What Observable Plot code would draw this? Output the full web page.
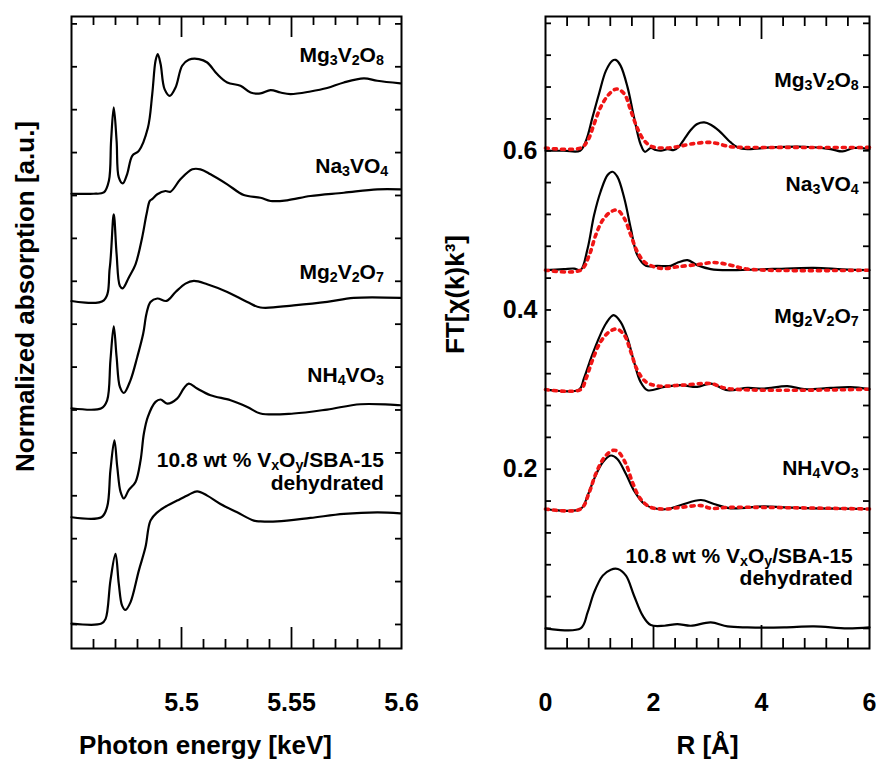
<!DOCTYPE html>
<html><head><meta charset="utf-8">
<script src="https://cdn.jsdelivr.net/npm/d3@7"></script>
<script src="https://cdn.jsdelivr.net/npm/@observablehq/plot@0.6"></script>
<style>
body{margin:0;background:#fff}
#wrap{position:relative;width:889px;height:765px;overflow:hidden}
#left{position:absolute;left:0;top:0;width:420px}
#right{position:absolute;left:420px;top:0;width:469px}
</style>
</head><body><div id="wrap"><div id="left"></div><div id="right"></div></div>
<script>
// ---------- DATA ----------
const samples = ["Mg3V2O8", "Na3VO4", "Mg2V2O7", "NH4VO3", "10.8 wt % VxOy/SBA-15 dehydrated"];
const xasOffset = [5.02, 3.77, 2.52, 1.25, 0.01];
const ftOffset = [0.6, 0.45, 0.3, 0.15, 0];

// XANES: [photon energy keV, normalized absorption]
const xasMg3V2O8 = [[5.45,0],[5.4601,0],[5.4647,0.015],[5.4670,0.152],[5.4680,0.618],[5.4692,1.006],[5.4705,0.618],[5.4715,0.19],[5.4733,0.12],[5.4753,0.23],[5.4776,0.443],[5.4806,0.50],[5.4847,0.766],[5.4867,1.162],[5.4882,1.55],[5.4892,1.628],[5.4905,1.512],[5.4923,1.22],[5.4947,1.142],[5.4973,1.239],[5.5003,1.492],[5.5033,1.562],[5.5079,1.57],[5.5117,1.53],[5.5162,1.395],[5.5208,1.297],[5.5268,1.259],[5.5314,1.18],[5.5359,1.169],[5.5405,1.209],[5.5450,1.18],[5.5495,1.162],[5.5586,1.192],[5.5662,1.232],[5.5738,1.297],[5.5829,1.344],[5.5890,1.317],[5.5995,1.286]];
const xasNa3VO4 = [[5.45,0],[5.4647,0.008],[5.4674,0.388],[5.4692,1.01],[5.4705,0.548],[5.4720,0.175],[5.4733,0.148],[5.4760,0.272],[5.4791,0.428],[5.4821,0.738],[5.4841,1.01],[5.4856,1.166],[5.4868,1.19],[5.4890,1.244],[5.4927,1.282],[5.4950,1.274],[5.4995,1.418],[5.5049,1.535],[5.5086,1.535],[5.5132,1.477],[5.5208,1.36],[5.5283,1.235],[5.5359,1.204],[5.5405,1.166],[5.5480,1.174],[5.5586,1.224],[5.5738,1.262],[5.5890,1.302],[5.5995,1.302]];
const xasMg2V2O7 = [[5.45,0],[5.4636,0],[5.4662,0.093],[5.4677,0.559],[5.4692,0.956],[5.4705,0.598],[5.4720,0.248],[5.4738,0.178],[5.4768,0.326],[5.4799,0.598],[5.4826,0.871],[5.4841,1.104],[5.4859,1.239],[5.4890,1.279],[5.4932,1.251],[5.4973,1.355],[5.5018,1.453],[5.5056,1.484],[5.5117,1.445],[5.5208,1.355],[5.5299,1.239],[5.5359,1.174],[5.5510,1.2],[5.5662,1.239],[5.5783,1.286],[5.5995,1.286]];
const xasNH4VO3 = [[5.45,0],[5.4636,0],[5.4662,0.12],[5.4677,0.548],[5.4695,0.897],[5.4708,0.586],[5.4723,0.295],[5.4738,0.218],[5.4760,0.315],[5.4791,0.411],[5.4814,0.664],[5.4829,0.976],[5.4847,1.17],[5.4882,1.344],[5.4905,1.372],[5.4935,1.325],[5.4980,1.383],[5.5010,1.5],[5.5033,1.558],[5.5071,1.5],[5.5132,1.422],[5.5223,1.364],[5.5299,1.286],[5.5359,1.209],[5.5510,1.209],[5.5662,1.255],[5.5814,1.317],[5.5995,1.305]];
const xasVOxSBA = [[5.45,0],[5.4636,0],[5.4655,0.055],[5.4677,0.501],[5.4700,0.812],[5.4715,0.463],[5.4730,0.21],[5.4745,0.16],[5.4768,0.248],[5.4806,0.618],[5.4836,0.889],[5.4859,1.2],[5.4890,1.297],[5.4935,1.375],[5.4980,1.434],[5.5033,1.503],[5.5071,1.542],[5.5117,1.492],[5.5177,1.395],[5.5253,1.297],[5.5329,1.2],[5.5359,1.192],[5.5435,1.192],[5.5586,1.232],[5.5738,1.279],[5.5890,1.297],[5.5995,1.286]];

// FT: [R in Å, FT[chi(k)k^3]] experiment (black) and fit (red dotted)
const ftMg3V2O8 = [[0,0],[0.34,0],[0.64,0],[0.75,0.0126],[0.87,0.0419],[0.99,0.0713],[1.12,0.1006],[1.24,0.1132],[1.30,0.1141],[1.39,0.1069],[1.52,0.0796],[1.64,0.0419],[1.76,0.0084],[1.84,-0.0013],[1.95,0.0034],[2.04,0.0009],[2.14,0],[2.26,0.0021],[2.38,0.0009],[2.47,0.005],[2.57,0.0147],[2.69,0.026],[2.81,0.0336],[2.94,0.0356],[3.06,0.0327],[3.21,0.0252],[3.43,0.0104],[3.56,0.0042],[3.74,0.0021],[4.17,0.0042],[4.79,0.005],[5.28,0.0021],[5.50,-0.0009],[5.71,0.0034],[6,0.0021]];
const ftMg3V2O8Fit = [[0,0.0034],[0.65,0.0034],[0.78,0.0126],[0.90,0.0336],[1.02,0.0545],[1.18,0.0713],[1.32,0.0776],[1.46,0.0713],[1.58,0.0503],[1.70,0.0285],[1.83,0.0126],[1.98,0.005],[2.20,0.0034],[2.44,0.005],[2.69,0.0084],[3.06,0.0104],[3.43,0.005],[3.68,0.0042],[4.5,0.0042],[5.2,0.004],[6,0.0042]];
const ftNa3VO4 = [[0,0],[0.34,0.0013],[0.53,0.002],[0.65,0],[0.78,0.0272],[0.90,0.0692],[1.02,0.0985],[1.15,0.1195],[1.24,0.1236],[1.33,0.1174],[1.46,0.0901],[1.58,0.0523],[1.70,0.0189],[1.86,0.0054],[2.07,0.0054],[2.32,0.0054],[2.45,0.0096],[2.63,0.0126],[2.81,0.0063],[3.06,0.0013],[3.43,0],[4.2,0.0015],[4.97,0.0029],[5.5,0.001],[6,0]];
const ftNa3VO4Fit = [[0,0],[0.65,0],[0.81,0.0189],[0.93,0.044],[1.06,0.0629],[1.21,0.0733],[1.33,0.0755],[1.46,0.0649],[1.58,0.044],[1.70,0.0231],[1.83,0.0104],[2.01,0.0042],[2.20,0.002],[2.44,0.0042],[2.81,0.007],[3.12,0.0096],[3.43,0.0063],[3.74,0.0013],[6,0]];
const ftMg2V2O7 = [[0,0],[0.62,0],[0.71,0.0138],[0.84,0.039],[0.96,0.06],[1.12,0.083],[1.26,0.0936],[1.39,0.0852],[1.52,0.0642],[1.64,0.0348],[1.76,0.0097],[1.89,-0.0008],[2.20,0.0034],[2.51,0.0055],[2.81,0.0034],[3.06,0.0075],[3.37,-0.0008],[3.74,0.0021],[4.05,0.0013],[4.48,0.0043],[4.79,0.0005],[5.28,0.0021],[5.65,0.003],[6,0.0005]];
const ftMg2V2O7Fit = [[0,0],[0.65,0],[0.75,0.0138],[0.87,0.037],[1.02,0.06],[1.18,0.0726],[1.32,0.076],[1.46,0.0684],[1.58,0.0474],[1.70,0.0244],[1.86,0.0097],[2.07,0.0047],[2.51,0.0055],[3.06,0.0075],[3.37,0.0013],[6,0.0005]];
const ftNH4VO3 = [[0,0],[0.65,0],[0.78,0.0169],[0.90,0.0377],[1.06,0.0587],[1.21,0.0672],[1.33,0.0629],[1.49,0.044],[1.64,0.0231],[1.83,0.0063],[2.01,0.0009],[2.26,0],[2.51,0.005],[2.88,0.0113],[3.12,0.0063],[3.43,0.0009],[4.05,0.0034],[4.42,0.0021],[4.97,0.0009],[6,0]];
const ftNH4VO3Fit = [[0,0],[0.65,0],[0.81,0.021],[0.93,0.044],[1.09,0.065],[1.24,0.0735],[1.34,0.0722],[1.49,0.0566],[1.61,0.0336],[1.76,0.0126],[1.95,0.0021],[2.20,0],[2.51,0.0021],[2.88,0.0043],[3.06,0.0009],[3.43,0.0021],[6,0]];
const ftVOxSBA = [[0,0],[0.65,0],[0.78,0.0201],[0.90,0.0453],[1.06,0.0663],[1.21,0.0738],[1.34,0.0746],[1.49,0.0663],[1.64,0.0411],[1.80,0.016],[1.95,0.0042],[2.20,0.0034],[2.44,0.0054],[2.69,0.0034],[3.06,0.0075],[3.37,0.0025],[3.74,0.0013],[4.42,0.0013],[4.97,0.0025],[5.59,0],[6,0.0013]];

// labels (underscore marks a subscript character) and their anchors in data units
const labels = ["Mg_3V_2O_8", "Na_3VO_4", "Mg_2V_2O_7", "NH_4VO_3", "10.8 wt % V_xO_y/SBA-15", "dehydrated"];
const xasLabelX = [5.592, 5.594, 5.592, 5.592, 5.592, 5.592];
const xasLabelY = [6.63, 5.34, 4.10, 2.90, 1.91, 1.64];
const ftLabelX = [5.80, 5.80, 5.80, 5.80, 5.69, 5.69];
const ftLabelY = [0.688, 0.5585, 0.392, 0.201, 0.0906, 0.0629];

// ticks
const xasXLabels = [5.5, 5.55, 5.6];
const xasXMajor = [5.5, 5.55];
const xasXMinor = [5.46, 5.47, 5.48, 5.49, 5.51, 5.52, 5.53, 5.54, 5.56, 5.57, 5.58, 5.59];
const xasYTicks = [0, 0.5, 1, 1.5, 2, 2.5, 3, 3.5, 4, 4.5, 5, 5.5, 6, 6.5, 7];
const ftXLabels = [0, 2, 4, 6];
const ftXMajor = [2, 4];
const ftXMinor = [0.4, 0.8, 1.2, 1.6, 2.4, 2.8, 3.2, 3.6, 4.4, 4.8, 5.2, 5.6];
const ftYLabels = [0.2, 0.4, 0.6];
const ftYTicks = [0, 0.04, 0.08, 0.12, 0.16, 0.2, 0.24, 0.28, 0.32, 0.36, 0.4, 0.44, 0.48, 0.52, 0.56, 0.6, 0.64, 0.68, 0.72, 0.76];

// ---------- BUILD ----------
const xasSeries = [xasMg3V2O8, xasNa3VO4, xasMg2V2O7, xasNH4VO3, xasVOxSBA];
const ftSeries = [ftMg3V2O8, ftNa3VO4, ftMg2V2O7, ftNH4VO3, ftVOxSBA];
const ftFits = [ftMg3V2O8Fit, ftNa3VO4Fit, ftMg2V2O7Fit, ftNH4VO3Fit];

const xasRows = xasSeries.flatMap((s, i) => s.map(([e, a]) => ({sample: samples[i], e, a: a + xasOffset[i]})));
const ftRows = ftSeries.flatMap((s, i) => s.map(([r, v]) => ({sample: samples[i], r, v: v + ftOffset[i]})));
const fitRows = ftFits.flatMap((s, i) => s.map(([r, v]) => ({sample: samples[i], r, v: v + ftOffset[i]})));
const xasLab = labels.map((t, i) => ({t, x: xasLabelX[i], y: xasLabelY[i]}));
const ftLab = labels.map((t, i) => ({t, x: ftLabelX[i], y: ftLabelY[i]}));

const FONT = "'Liberation Sans', Arial, Helvetica, sans-serif";
const H = 765, MT = 16, MB = 117, FH = H - MT - MB;
const TW = 1.8;

function xTicks(vals, len) {
  return [
    Plot.tickX(vals, {x: d => d, insetTop: FH - len, strokeWidth: TW}),
    Plot.tickX(vals, {x: d => d, insetBottom: FH - len, strokeWidth: TW})
  ];
}
function yTicks(vals, len, FW) {
  return [
    Plot.tickY(vals, {y: d => d, insetRight: FW - len, strokeWidth: TW}),
    Plot.tickY(vals, {y: d => d, insetLeft: FW - len, strokeWidth: TW})
  ];
}
const titleOpts = {text: d => d, textAnchor: "middle", lineAnchor: "middle", fontSize: 26, fontWeight: "bold", fill: "black"};

const leftW = 420, leftML = 71, leftMR = 19;
const left = Plot.plot({
  width: leftW, height: H, marginLeft: leftML, marginRight: leftMR, marginTop: MT, marginBottom: MB,
  style: {fontFamily: FONT, fontWeight: "bold", background: "white", overflow: "visible"},
  x: {domain: [5.45, 5.60]},
  y: {domain: [-0.28, 7.086], axis: null},
  marks: [
    ...xTicks(xasXMinor, 9), ...xTicks(xasXMajor, 21),
    ...yTicks(xasYTicks, 6, leftW - leftML - leftMR),
    Plot.line(xasRows, {x: "e", y: "a", z: "sample", stroke: "black", strokeWidth: 2.2, curve: "catmull-rom"}),
    Plot.text(xasLab, {x: "x", y: "y", text: "t", textAnchor: "end", fontSize: 21, fontWeight: "bold", fill: "black"}),
    Plot.axisX(xasXLabels, {tickSize: 0, tickPadding: 45, fontSize: 25, fontWeight: "bold", tickFormat: d => String(d)}),
    Plot.text(["Photon energy [keV]"], {...titleOpts, frameAnchor: "bottom", dx: -31, dy: 97}),
    Plot.text(["Normalized absorption [a.u.]"], {...titleOpts, frameAnchor: "left", rotate: -90, dx: -46, dy: -36}),
    Plot.frame({stroke: "black", strokeWidth: 2})
  ]
});

const rightW = 469, rightML = 125, rightMR = 20;
const right = Plot.plot({
  width: rightW, height: H, marginLeft: rightML, marginRight: rightMR, marginTop: MT, marginBottom: MB,
  style: {fontFamily: FONT, fontWeight: "bold", background: "white", overflow: "visible"},
  x: {domain: [0, 6]},
  y: {domain: [-0.0252, 0.7686]},
  marks: [
    ...xTicks(ftXMinor, 10), ...xTicks(ftXMajor, 23),
    ...yTicks(ftYTicks, 6, rightW - rightML - rightMR),
    Plot.line(ftRows, {x: "r", y: "v", z: "sample", stroke: "black", strokeWidth: 2.2, curve: "catmull-rom"}),
    Plot.line(fitRows, {x: "r", y: "v", z: "sample", stroke: "#f01515", strokeWidth: 3.6, strokeDasharray: "3,5", curve: "catmull-rom"}),
    Plot.text(ftLab, {x: "x", y: "y", text: "t", textAnchor: "end", fontSize: 21, fontWeight: "bold", fill: "black"}),
    Plot.axisX(ftXLabels, {tickSize: 0, tickPadding: 45, fontSize: 25, fontWeight: "bold", tickFormat: d => String(d)}),
    Plot.axisY(ftYLabels, {tickSize: 0, tickPadding: 8, fontSize: 25, fontWeight: "bold", tickFormat: d => d.toFixed(1), label: null}),
    Plot.text(["R [Å]"], {...titleOpts, frameAnchor: "bottom", dy: 97}),
    Plot.text(["FT[χ(k)k³]"], {...titleOpts, frameAnchor: "left", rotate: -90, dx: -90, dy: -38}),
    Plot.frame({stroke: "black", strokeWidth: 2})
  ]
});

function applySubs(svg) {
  svg.querySelectorAll("text").forEach(t => {
    const s = t.textContent;
    if (!s.includes("_")) return;
    while (t.firstChild) t.removeChild(t.firstChild);
    s.split(/(_.)/).forEach(p => {
      if (!p) return;
      const ts = document.createElementNS("http://www.w3.org/2000/svg", "tspan");
      if (p[0] === "_") {
        ts.textContent = p.slice(1);
        ts.style.fontSize = "0.68em";
        ts.setAttribute("baseline-shift", "-0.22em");
      } else ts.textContent = p;
      t.appendChild(ts);
    });
  });
}
applySubs(left); applySubs(right);
document.getElementById("left").appendChild(left);
document.getElementById("right").appendChild(right);
</script>
</body></html>
